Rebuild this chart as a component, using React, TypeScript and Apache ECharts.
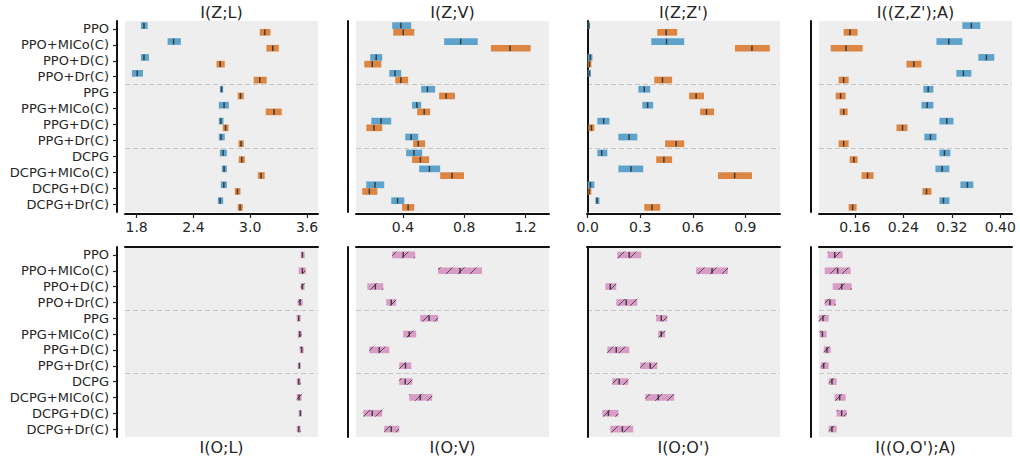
import React, { useEffect, useRef } from "react";
import * as echarts from "echarts";

const categories = [
  "PPO", "PPO+MICo(C)", "PPO+D(C)", "PPO+Dr(C)",
  "PPG", "PPG+MICo(C)", "PPG+D(C)", "PPG+Dr(C)",
  "DCPG", "DCPG+MICo(C)", "DCPG+D(C)", "DCPG+Dr(C)",
];

// each entry: [low, median, high]
const zlBlue = [
  [1.845, 1.877, 1.916], [2.127, 2.19, 2.267], [1.845, 1.877, 1.93], [1.75, 1.806, 1.866],
  [2.679, 2.697, 2.714], [2.668, 2.724, 2.774], [2.668, 2.689, 2.718], [2.668, 2.692, 2.731],
  [2.679, 2.714, 2.753], [2.7, 2.724, 2.753], [2.689, 2.721, 2.753], [2.658, 2.682, 2.714],
];
const zlOrange = [
  [3.101, 3.153, 3.213], [3.171, 3.238, 3.301], [2.644, 2.682, 2.731], [3.037, 3.101, 3.174],
  [2.868, 2.897, 2.932], [3.164, 3.252, 3.333], [2.71, 2.739, 2.77], [2.876, 2.903, 2.932],
  [2.879, 2.911, 2.943], [3.08, 3.114, 3.153], [2.837, 2.865, 2.897], [2.868, 2.893, 2.921],
];
const zvBlue = [
  [0.33, 0.387, 0.454], [0.669, 0.777, 0.888], [0.187, 0.226, 0.265], [0.311, 0.348, 0.389],
  [0.519, 0.56, 0.61], [0.46, 0.491, 0.519], [0.194, 0.257, 0.324], [0.415, 0.454, 0.5],
  [0.421, 0.472, 0.526], [0.506, 0.573, 0.643], [0.161, 0.218, 0.278], [0.324, 0.365, 0.409],
];
const zvOrange = [
  [0.337, 0.402, 0.474], [0.974, 1.098, 1.234], [0.148, 0.2, 0.259], [0.35, 0.387, 0.434],
  [0.636, 0.682, 0.74], [0.493, 0.539, 0.578], [0.161, 0.211, 0.265], [0.467, 0.5, 0.545],
  [0.46, 0.514, 0.571], [0.643, 0.721, 0.799], [0.135, 0.181, 0.233], [0.395, 0.434, 0.474],
];
const zzBlue = [
  [0.0, 0.006, 0.013], [0.363, 0.45, 0.551], [0.0, 0.014, 0.027], [0.0, 0.008, 0.019],
  [0.289, 0.323, 0.357], [0.312, 0.342, 0.374], [0.055, 0.091, 0.124], [0.175, 0.236, 0.283],
  [0.055, 0.08, 0.112], [0.175, 0.247, 0.317], [0.0, 0.015, 0.038], [0.044, 0.053, 0.067],
];
const zzOrange = [
  [0.397, 0.448, 0.511], [0.841, 0.938, 1.04], [0.0, 0.01, 0.021], [0.38, 0.427, 0.482],
  [0.579, 0.619, 0.664], [0.642, 0.678, 0.721], [0.004, 0.021, 0.038], [0.442, 0.505, 0.551],
  [0.391, 0.435, 0.482], [0.744, 0.839, 0.938], [0.0, 0.008, 0.021], [0.323, 0.367, 0.414],
];
const zaBlue = [
  [0.3374, 0.3522, 0.367], [0.2946, 0.3149, 0.3374], [0.3637, 0.377, 0.39], [0.3275, 0.3391, 0.3522],
  [0.273, 0.2809, 0.2895], [0.2698, 0.2793, 0.2895], [0.2995, 0.3116, 0.3226], [0.2746, 0.2847, 0.2946],
  [0.2995, 0.3078, 0.3176], [0.2929, 0.304, 0.316], [0.3341, 0.3457, 0.3555], [0.2995, 0.3061, 0.316],
];
const zaOrange = [
  [0.1414, 0.1517, 0.1644], [0.12, 0.1452, 0.1727], [0.2451, 0.2572, 0.2698], [0.1332, 0.1414, 0.1496],
  [0.1282, 0.1364, 0.1447], [0.1348, 0.1414, 0.148], [0.2286, 0.2386, 0.2468], [0.1332, 0.1414, 0.1496],
  [0.1513, 0.1583, 0.1644], [0.171, 0.1809, 0.1908], [0.2715, 0.2781, 0.2863], [0.1496, 0.1562, 0.1628],
];
const olPink = [
  [3.533, 3.551, 3.575], [3.512, 3.551, 3.586], [3.533, 3.551, 3.575], [3.502, 3.526, 3.555],
  [3.491, 3.512, 3.533], [3.502, 3.523, 3.544], [3.523, 3.544, 3.565], [3.502, 3.519, 3.533],
  [3.491, 3.512, 3.533], [3.491, 3.515, 3.544], [3.512, 3.53, 3.544], [3.491, 3.512, 3.533],
];
const ovPink = [
  [0.33, 0.402, 0.48], [0.63, 0.773, 0.916], [0.168, 0.22, 0.272], [0.291, 0.324, 0.356],
  [0.513, 0.571, 0.63], [0.402, 0.441, 0.487], [0.181, 0.246, 0.311], [0.376, 0.417, 0.454],
  [0.376, 0.415, 0.461], [0.441, 0.513, 0.591], [0.142, 0.2, 0.265], [0.278, 0.324, 0.376],
];
const ooPink = [
  [0.169, 0.237, 0.306], [0.619, 0.71, 0.801], [0.101, 0.129, 0.163], [0.163, 0.22, 0.283],
  [0.391, 0.42, 0.454], [0.403, 0.42, 0.442], [0.112, 0.163, 0.237], [0.3, 0.357, 0.397],
  [0.141, 0.18, 0.232], [0.329, 0.403, 0.494], [0.084, 0.118, 0.175], [0.129, 0.198, 0.26],
];
const oaPink = [
  [0.115, 0.1266, 0.1397], [0.1101, 0.1315, 0.1529], [0.1233, 0.1381, 0.1546], [0.1101, 0.1188, 0.1282],
  [0.1002, 0.1073, 0.1167], [0.1018, 0.1063, 0.1134], [0.1085, 0.1139, 0.12], [0.1035, 0.1084, 0.1167],
  [0.1167, 0.1221, 0.1299], [0.1266, 0.1348, 0.1447], [0.1299, 0.1381, 0.1464], [0.1167, 0.1221, 0.1299],
];

const topTitles = ["I(Z;L)", "I(Z;V)", "I(Z;Z')", "I((Z,Z');A)"];
const bottomTitles = ["I(O;L)", "I(O;V)", "I(O;O')", "I((O,O');A)"];
const xMins = [1.677, 0.094, -0.004, 0.1007];
const xMaxs = [3.716, 1.353, 1.098, 0.4193];
const xTicks = [
  [1.8, 2.4, 3.0, 3.6],
  [0.4, 0.8, 1.2],
  [0.0, 0.3, 0.6, 0.9],
  [0.16, 0.24, 0.32, 0.4],
];
const tickDecimals = [1, 1, 1, 2];

const topBlue = [zlBlue, zvBlue, zzBlue, zaBlue];
const topOrange = [zlOrange, zvOrange, zzOrange, zaOrange];
const bottomPink = [olPink, ovPink, ooPink, oaPink];

const FONT = "DejaVu Sans";
const BLUE = "#5ea3cb";
const ORANGE = "#dd8644";
const PINK = "#d89cc6";
const GRID_LEFTS = [125, 356, 587, 819];
const GRID_W = 193;

function makeRender(mode: "up" | "down" | "center", color: string, hatch: boolean) {
  return (params: any, api: any) => {
    const cat = api.value(3);
    const pLow = api.coord([api.value(0), cat]);
    const pMed = api.coord([api.value(1), cat]);
    const pHigh = api.coord([api.value(2), cat]);
    const band = api.size([0, 1])[1];
    const h = band * 0.42;
    let y0: number;
    if (mode === "up") y0 = pLow[1] - h;
    else if (mode === "down") y0 = pLow[1];
    else y0 = pLow[1] - h / 2;
    const x0 = pLow[0];
    const x1 = pHigh[0];
    const y1 = y0 + h;
    const children: any[] = [
      {
        type: "rect",
        shape: { x: x0, y: y0, width: Math.max(x1 - x0, 1), height: h },
        style: { fill: color },
      },
    ];
    if (hatch) {
      const s = 12;
      const kStart = Math.ceil((x0 + y0) / s);
      const kEnd = Math.floor((x1 + y1) / s);
      for (let k = kStart; k <= kEnd; k++) {
        const c = k * s;
        const ya = Math.max(y0, c - x1);
        const yb = Math.min(y1, c - x0);
        if (ya < yb) {
          children.push({
            type: "line",
            shape: { x1: c - ya, y1: ya, x2: c - yb, y2: yb },
            style: { stroke: "rgba(40,40,40,0.75)", lineWidth: 1 },
          });
        }
      }
    }
    children.push({
      type: "line",
      shape: { x1: pMed[0], y1: y0 + 0.5, x2: pMed[0], y2: y1 - 0.5 },
      style: { stroke: "rgba(45,45,45,0.85)", lineWidth: 1.5 },
    });
    return { type: "group", children };
  };
}

function toData(arr: number[][]) {
  return arr.map((d, i) => [d[0], d[1], d[2], i]);
}

export default function App() {
  const ref = useRef<HTMLDivElement>(null);
  useEffect(() => {
    if (!ref.current) return;
    const chart = echarts.init(ref.current, undefined, { renderer: "svg" });
    const grids: any[] = [];
    const xAxes: any[] = [];
    const yAxes: any[] = [];
    const series: any[] = [];
    const graphics: any[] = [];

    for (let row = 0; row < 2; row++) {
      for (let col = 0; col < 4; col++) {
        const idx = row * 4 + col;
        const top = row === 0 ? 21 : 247;
        const height = row === 0 ? 191 : 190;
        grids.push({
          left: GRID_LEFTS[col],
          top,
          width: GRID_W,
          height,
          show: true,
          backgroundColor: "#eeeeee",
          borderWidth: 0,
        });
        xAxes.push({
          type: "value",
          gridIndex: idx,
          min: xMins[col],
          max: xMaxs[col],
          position: row === 0 ? "bottom" : "top",
          offset: row === 0 ? 2 : 0,
          axisLine: { show: true, onZero: false, lineStyle: { color: "#111", width: 2 } },
          axisTick: {
            show: row === 0,
            customValues: xTicks[col],
            length: 4,
            lineStyle: { color: "#222", width: 1.2 },
          },
          axisLabel: {
            show: row === 0,
            customValues: xTicks[col],
            formatter: (v: number) => v.toFixed(tickDecimals[col]),
            fontSize: 14,
            fontFamily: FONT,
            color: "#262626",
            margin: 6,
          },
          splitLine: { show: false },
        });
        yAxes.push({
          type: "category",
          gridIndex: idx,
          data: categories,
          inverse: true,
          boundaryGap: true,
          offset: 8,
          axisLine: { show: true, lineStyle: { color: "#111", width: 2 } },
          axisTick: {
            show: col === 0,
            alignWithLabel: true,
            length: 4,
            lineStyle: { color: "#222", width: 1.2 },
          },
          axisLabel: {
            show: col === 0,
            interval: 0,
            fontSize: 13,
            fontFamily: FONT,
            color: "#262626",
            margin: 8,
          },
          splitLine: {
            show: true,
            showMaxLine: false,
            interval: (i: number) => i === 4 || i === 8,
            lineStyle: { color: "#c6c6c6", type: [5, 3], width: 1.2 },
          },
        });
        if (row === 0) {
          series.push({
            type: "custom",
            xAxisIndex: idx,
            yAxisIndex: idx,
            coordinateSystem: "cartesian2d",
            data: toData(topBlue[col]),
            encode: { x: [0, 1, 2], y: 3 },
            renderItem: makeRender("up", BLUE, false),
          });
          series.push({
            type: "custom",
            xAxisIndex: idx,
            yAxisIndex: idx,
            coordinateSystem: "cartesian2d",
            data: toData(topOrange[col]),
            encode: { x: [0, 1, 2], y: 3 },
            renderItem: makeRender("down", ORANGE, false),
          });
          graphics.push({
            type: "text",
            x: GRID_LEFTS[col] + GRID_W / 2,
            y: 12,
            style: {
              text: topTitles[col],
              fontSize: 16,
              fontFamily: FONT,
              fill: "#262626",
              textAlign: "center",
              textVerticalAlign: "middle",
            },
          });
        } else {
          series.push({
            type: "custom",
            xAxisIndex: idx,
            yAxisIndex: idx,
            coordinateSystem: "cartesian2d",
            data: toData(bottomPink[col]),
            encode: { x: [0, 1, 2], y: 3 },
            renderItem: makeRender("center", PINK, true),
          });
          graphics.push({
            type: "text",
            x: GRID_LEFTS[col] + GRID_W / 2,
            y: 447,
            style: {
              text: bottomTitles[col],
              fontSize: 16,
              fontFamily: FONT,
              fill: "#262626",
              textAlign: "center",
              textVerticalAlign: "middle",
            },
          });
        }
      }
    }

    chart.setOption({
      animation: false,
      backgroundColor: "#ffffff",
      textStyle: { fontFamily: FONT },
      grid: grids,
      xAxis: xAxes,
      yAxis: yAxes,
      series,
      graphic: graphics,
    });
    return () => chart.dispose();
  }, []);
  return (
    <div
      ref={ref}
      style={{ position: "fixed", left: 0, top: 0, width: 1020, height: 461 }}
    />
  );
}
